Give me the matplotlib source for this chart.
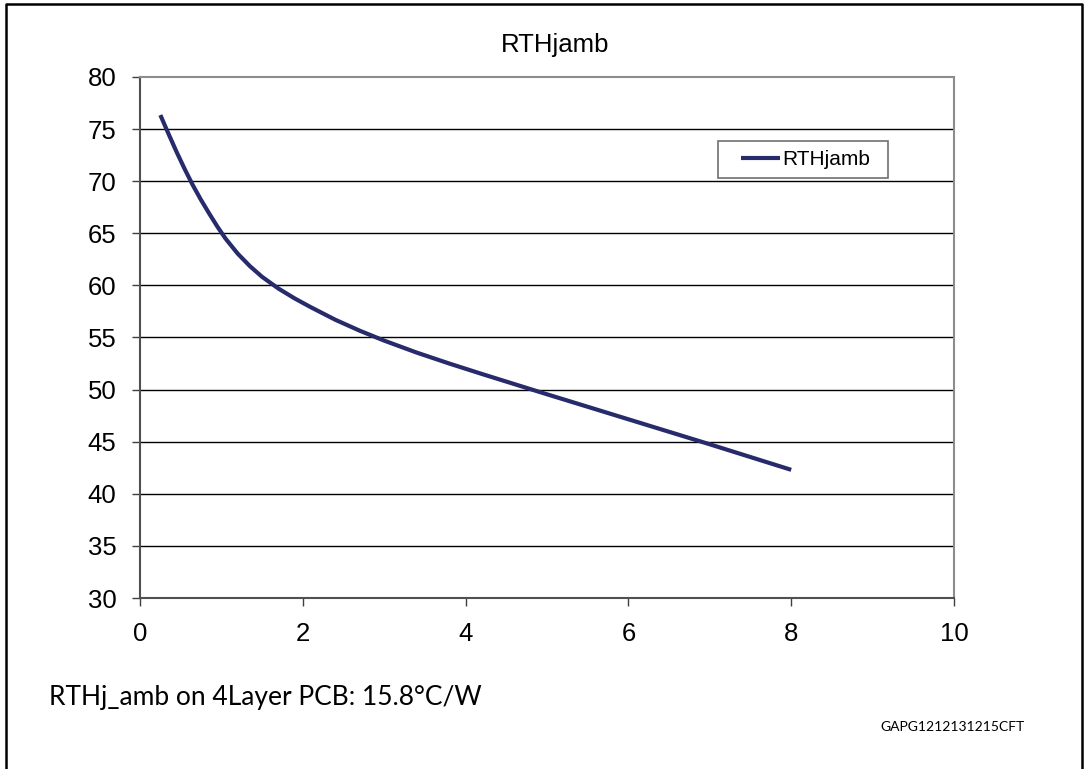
import matplotlib.pyplot as plt
from matplotlib.lines import Line2D
from matplotlib.patches import Rectangle

# values
power = [0.25, 0.35, 0.45, 0.55, 0.65, 0.75, 0.85, 0.95, 1.05, 1.2, 1.35, 1.5, 1.7,
         1.9, 2.1, 2.4, 2.7, 3.0, 3.4, 3.8, 4.2, 5.0, 6.0, 7.0, 8.0]
rth = [76.35, 74.55, 72.8, 71.15, 69.6, 68.2, 66.9, 65.65, 64.5, 63.05, 61.85, 60.82, 59.7,
       58.75, 57.9, 56.7, 55.65, 54.7, 53.55, 52.5, 51.5, 49.55, 47.15, 44.75, 42.3]
x_ticks = [0, 2, 4, 6, 8, 10]
y_ticks = [30, 35, 40, 45, 50, 55, 60, 65, 70, 75, 80]

navy = '#272b6b'
W, H = 1087, 769
AX_L, AX_R, AX_T, AX_B = 140, 954, 77, 598


def ax_frac(px, py):
    return (px - AX_L) / (AX_R - AX_L), (AX_B - py) / (AX_B - AX_T)


fig = plt.figure(figsize=(W / 100, H / 100), dpi=100)
ax = fig.add_axes([AX_L / W, 1 - AX_B / H, (AX_R - AX_L) / W, (AX_B - AX_T) / H])

for yv in y_ticks[1:-1]:
    ax.axhline(yv, color='black', lw=1.0, zorder=1)

ax.plot(power, rth, color=navy, lw=3, label='RTHjamb', zorder=3,
        solid_capstyle='butt', solid_joinstyle='round')

ax.set_xlim(0, 10)
ax.set_ylim(30, 80)
ax.set_xticks(x_ticks)
ax.set_yticks(y_ticks)
ax.tick_params(labelsize=18.5, length=6, width=1, color='#404040', pad=11)
for lab in ax.get_xticklabels() + ax.get_yticklabels():
    lab.set_fontfamily('Liberation Sans')

for side in ['left', 'bottom']:
    ax.spines[side].set_color('#505050')
    ax.spines[side].set_linewidth(1.5)
for side in ['top', 'right']:
    ax.spines[side].set_color('#8c8c8c')
    ax.spines[side].set_linewidth(1.5)

fig.text(555 / W, 1 - 52 / H, 'RTHjamb', fontsize=18.5, family='Liberation Sans',
         ha='center', va='baseline')

# legend box drawn separately so the padding matches the original
bx0, by0 = ax_frac(718, 178)
bx1, by1 = ax_frac(888, 141)
ax.add_patch(Rectangle((bx0, by0), bx1 - bx0, by1 - by0, transform=ax.transAxes,
                       facecolor='white', edgecolor='#707070', lw=1.2, zorder=4))
leg = ax.legend(loc='center left', bbox_to_anchor=ax_frac(741, 159.5),
                prop={'family': 'Liberation Sans', 'size': 15},
                frameon=False, handlelength=1.85, handletextpad=0.15,
                borderpad=0, borderaxespad=0)
leg.set_zorder(5)

fig.text(49 / W, 1 - 705 / H, 'RTHj_amb on 4Layer PCB: 15.8°C/W',
         fontsize=19, family='Lato', va='baseline')
fig.text(880 / W, 1 - 731 / H, 'GAPG1212131215CFT',
         fontsize=10, family='Lato', va='baseline')

# outer frame (left, top, right)
fx0, fx1, fy1 = 6 / W, 1082 / W, 1 - 4 / H
fig.add_artist(Line2D([fx0, fx0, fx1, fx1], [0, fy1, fy1, 0],
                      transform=fig.transFigure, color='black', lw=1.8))

fig.savefig('out.png', dpi=100)
